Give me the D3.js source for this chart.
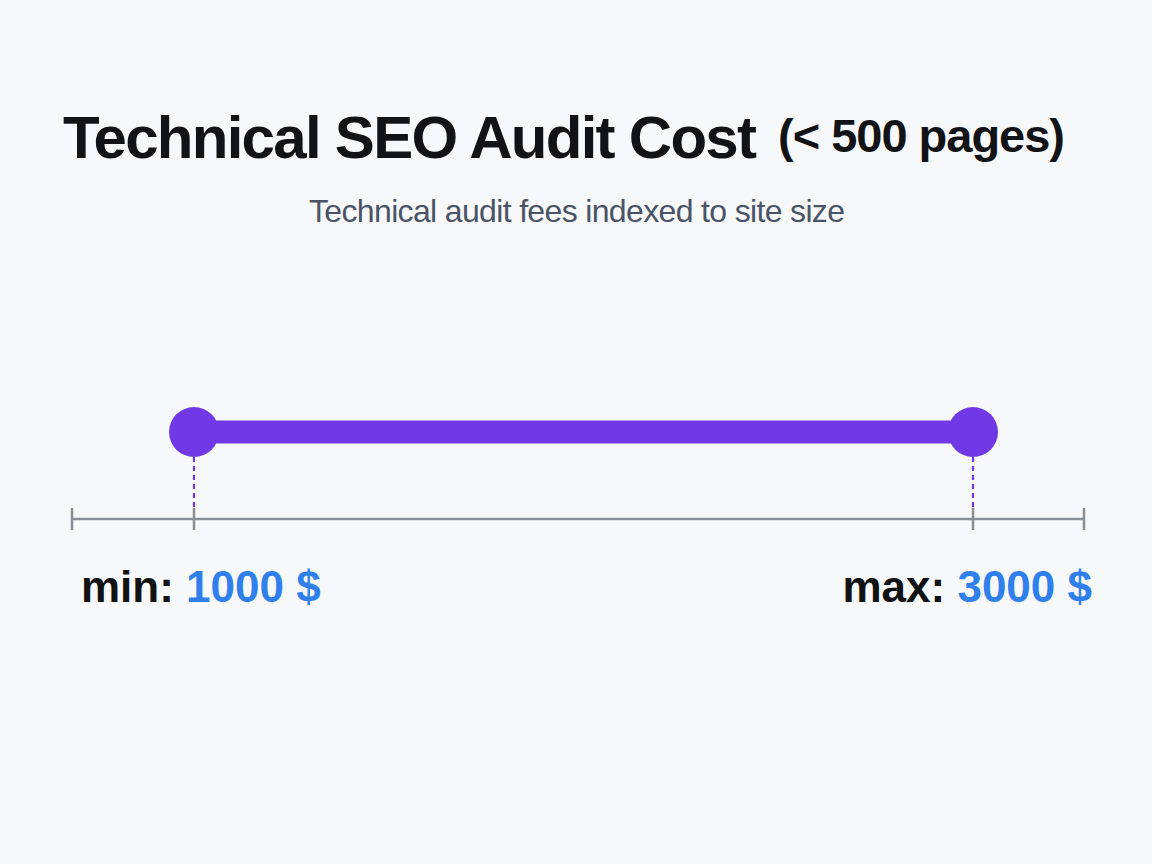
<!DOCTYPE html>
<html>
<head>
<meta charset="utf-8">
<script src="https://cdn.jsdelivr.net/npm/d3@7"></script>
<style>
  html, body { margin: 0; padding: 0; background: #f7f8fa; }
  svg { display: block; font-family: "Liberation Sans", Arial, sans-serif; }
</style>
</head>
<body>
<div id="chart"></div>
<script>
// chart data
const titleMain = "Technical SEO Audit Cost";
const titleNote = "(< 500 pages)";
const subtitle = "Technical audit fees indexed to site size";
const rangeLabels = ["min", "max"];
const rangeValues = [1000, 3000];
const unit = "$";

const width = 1152, height = 864;

const svg = d3.select("#chart")
    .append("svg")
    .attr("width", width)
    .attr("height", height);

svg.append("rect")
    .attr("width", width)
    .attr("height", height)
    .attr("fill", "#f7f8fa");

// titles (slightly tight tracking like the original)
svg.append("text")
    .attr("x", 63)
    .attr("y", 158)
    .attr("font-size", 60)
    .attr("font-weight", "bold")
    .attr("fill", "#121316")
    .attr("textLength", 694)
    .attr("lengthAdjust", "spacing")
    .text(titleMain);

svg.append("text")
    .attr("x", 778)
    .attr("y", 152)
    .attr("font-size", 47)
    .attr("font-weight", "bold")
    .attr("fill", "#121316")
    .attr("textLength", 287)
    .attr("lengthAdjust", "spacing")
    .text(titleNote);

svg.append("text")
    .attr("x", 309)
    .attr("y", 222)
    .attr("font-size", 32)
    .attr("fill", "#4a5466")
    .attr("textLength", 536)
    .attr("lengthAdjust", "spacing")
    .text(subtitle);

// scale
const x = d3.scaleLinear()
    .domain(rangeValues)
    .range([194, 973]);

const axisY = 519, barY = 432;
const purple = "#7139e6";

// axis line with end ticks
const axisEnds = [x.invert(72), x.invert(1084)];
svg.append("line")
    .attr("x1", x(axisEnds[0]))
    .attr("x2", x(axisEnds[1]))
    .attr("y1", axisY)
    .attr("y2", axisY)
    .attr("stroke", "#8a8f96")
    .attr("stroke-width", 2.5);

svg.selectAll(".tick")
    .data(axisEnds.concat(rangeValues))
    .join("line")
    .attr("class", "tick")
    .attr("x1", d => x(d))
    .attr("x2", d => x(d))
    .attr("y1", axisY - 11)
    .attr("y2", axisY + 11)
    .attr("stroke", "#8a8f96")
    .attr("stroke-width", 2.5);

// dashed guides
svg.selectAll(".guide")
    .data(rangeValues)
    .join("line")
    .attr("class", "guide")
    .attr("x1", d => x(d))
    .attr("x2", d => x(d))
    .attr("y1", barY + 25)
    .attr("y2", axisY - 11)
    .attr("stroke", purple)
    .attr("stroke-width", 2.2)
    .attr("stroke-dasharray", "5,4");

// range bar
svg.append("line")
    .attr("x1", x(rangeValues[0]))
    .attr("x2", x(rangeValues[1]))
    .attr("y1", barY)
    .attr("y2", barY)
    .attr("stroke", purple)
    .attr("stroke-width", 23);

svg.selectAll(".end")
    .data(rangeValues)
    .join("circle")
    .attr("class", "end")
    .attr("cx", d => x(d))
    .attr("cy", barY)
    .attr("r", 25)
    .attr("fill", purple);

// min / max labels
const labels = svg.selectAll(".label")
    .data(rangeValues)
    .join("text")
    .attr("class", "label")
    .attr("x", (d, i) => i === 0 ? 81 : 1092)
    .attr("y", 602)
    .attr("text-anchor", (d, i) => i === 0 ? "start" : "end")
    .attr("font-size", 44)
    .attr("font-weight", "bold");

labels.append("tspan")
    .attr("fill", "#111214")
    .text((d, i) => rangeLabels[i] + ": ");

labels.append("tspan")
    .attr("fill", "#2f80ed")
    .text(d => d + " " + unit);
</script>
</body>
</html>
